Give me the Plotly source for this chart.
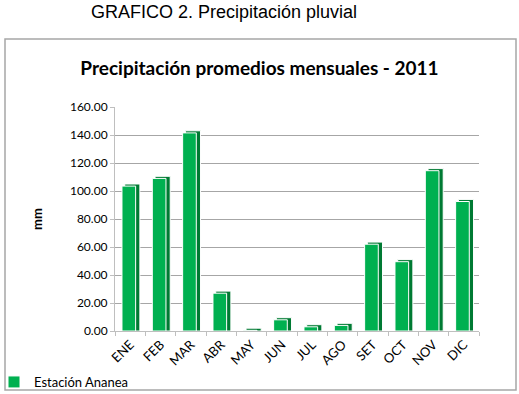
import plotly.graph_objects as go

meses = ["ENE", "FEB", "MAR", "ABR", "MAY", "JUN", "JUL", "AGO", "SET", "OCT", "NOV", "DIC"]
precipitacion = [103.5, 109.0, 141.5, 27.0, 0.5, 8.0, 3.0, 4.0, 62.0, 49.5, 114.5, 92.5]
y_ticks = [0, 20, 40, 60, 80, 100, 120, 140, 160]
y_labels = ["%.2f" % v for v in y_ticks]

W, H = 519, 394
L, R, T, B = 115, 40, 107, 63
pw, ph = W - L - R, H - T - B

def px(x):
    return (x - L) / pw

def py(y):
    return (H - B - y) / ph

fig = go.Figure()
# side/depth face (darker)
fig.add_trace(go.Bar(
    x=meses, y=[v + 1.5 for v in precipitacion], width=0.5, offset=-0.18,
    marker=dict(color="#007A33", line=dict(color="white", width=1)),
    showlegend=False, hoverinfo="skip"))
# front face
fig.add_trace(go.Bar(
    x=meses, y=precipitacion, width=0.45, offset=-0.27, name="Estación Ananea",
    marker=dict(color="#00B050", line=dict(color="white", width=1))))

fig.update_layout(
    width=W, height=H, barmode="overlay",
    margin=dict(l=L, r=R, t=T, b=B, autoexpand=False),
    paper_bgcolor="white", plot_bgcolor="white",
    font=dict(family="Lato, Noto Sans, sans-serif", color="black", size=12),
    title=dict(text="<b>Precipitación promedios mensuales - 2011</b>",
               x=0.5, xanchor="center", y=1 - 68 / H, yanchor="middle",
               font=dict(size=19, family="Lato, Noto Sans, sans-serif")),
    xaxis=dict(tickangle=-45, showgrid=False, showline=True, linecolor="#BFBFBF",
               ticks="outside", ticklen=4, tickcolor="#BFBFBF", automargin=False,
               tickson="boundaries",
               tickfont=dict(size=13), range=[-0.5, 11.5]),
    yaxis=dict(range=[0, 160], tickvals=y_ticks, ticktext=y_labels, automargin=False,
               showgrid=True, gridcolor="#A6A6A6", gridwidth=1,
               showline=True, linecolor="#BFBFBF", ticks="outside", ticklen=4,
               tickcolor="#BFBFBF", tickfont=dict(size=12),
               title=dict(text="<b>mm</b>", font=dict(size=13), standoff=24)),
    legend=dict(orientation="h", x=px(-6), y=py(382), xanchor="left", yanchor="middle",
                font=dict(size=13), bgcolor="rgba(0,0,0,0)", itemwidth=30),
    shapes=[dict(type="rect", xref="paper", yref="paper",
                 x0=px(5), x1=px(516), y0=py(390), y1=py(39),
                 line=dict(color="#A6A6A6", width=1.5))],
    annotations=[dict(text="GRAFICO 2. Precipitación pluvial", xref="paper", yref="paper",
                      x=px(224), y=py(12), xanchor="center", yanchor="middle",
                      showarrow=False,
                      font=dict(family="Liberation Sans, Arial, sans-serif", size=18))],
)

fig.write_html("out.html")
